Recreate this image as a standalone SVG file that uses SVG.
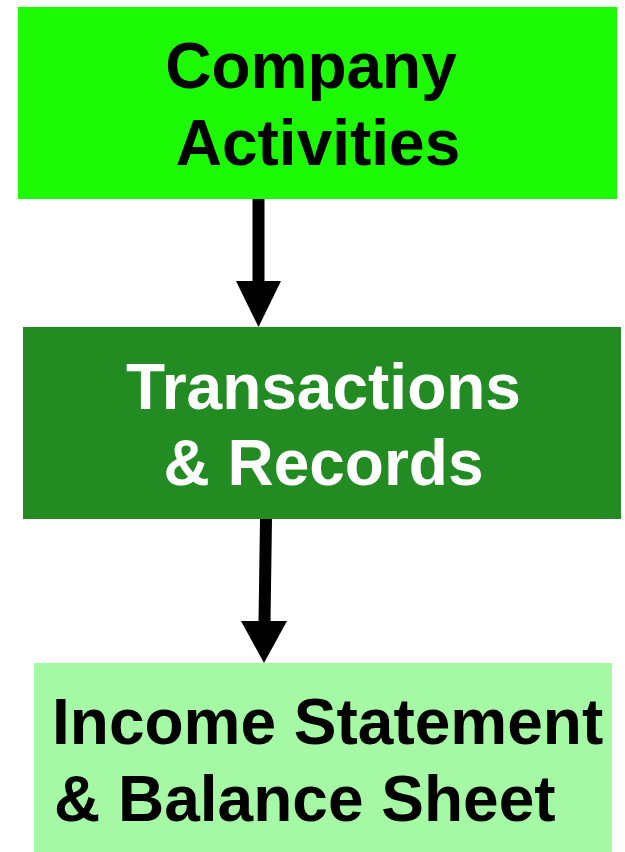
<svg xmlns="http://www.w3.org/2000/svg" width="625" height="852" viewBox="0 0 625 852">
<style>
text{font-family:"Liberation Sans",Arial,sans-serif;font-weight:bold;font-size:64px}
.dark{fill:#000}
.light{fill:#fff}
.shaft{stroke:#000;stroke-width:12;fill:none}
.head{fill:#000}
</style>
<rect width="625" height="852" fill="#fff"/>
<g id="connectors">
<line class="shaft" x1="258.5" y1="199" x2="258.5" y2="282"/>
<polygon class="head" points="236,281 281,281 258.5,327"/>
<line class="shaft" x1="266" y1="519" x2="264.5" y2="622"/>
<polygon class="head" points="241,621 287,621 264,663"/>
</g>
<g id="company-activities">
<rect x="18" y="7" width="599" height="192" fill="#1CFA05"/>
<text class="dark" x="311" y="88" text-anchor="middle">Company</text>
<text class="dark" x="318" y="165" text-anchor="middle">Activities</text>
</g>
<g id="transactions-records">
<rect x="23" y="327" width="598" height="192" fill="#228B22"/>
<text class="light" x="323.5" y="409" text-anchor="middle">Transactions</text>
<text class="light" x="323.5" y="485" text-anchor="middle">&amp; Records</text>
</g>
<g id="income-balance">
<rect x="34" y="663" width="578" height="189" fill="#A6F9A4"/>
<text class="dark" x="52" y="744">Income Statement</text>
<text class="dark" x="54" y="821">&amp; Balance Sheet</text>
</g>
</svg>
